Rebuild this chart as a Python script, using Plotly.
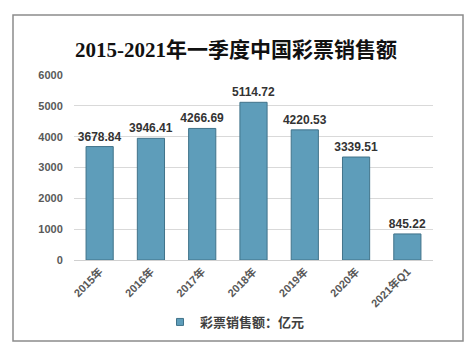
import plotly.graph_objects as go

categories = ["2015年", "2016年", "2017年", "2018年", "2019年", "2020年", "2021年Q1"]
values = [3678.84, 3946.41, 4266.69, 5114.72, 4220.53, 3339.51, 845.22]
y_ticks = [0, 1000, 2000, 3000, 4000, 5000, 6000]
title_text = "2015-2021年一季度中国彩票销售额"
series_name = "彩票销售额：亿元"

W, H = 472, 351
L, R, T, B = 74, 39, 75, 91
pw, ph = W - L - R, H - T - B

def px_x(x):
    return (x - L) / pw

def px_y(y):
    return (H - B - y) / ph

fig = go.Figure()
fig.add_trace(go.Bar(
    x=categories, y=values, name=series_name, showlegend=False,
    marker=dict(color="#5e9dba", line=dict(color="#41738a", width=1)),
    width=0.53,
    text=[f"{v:.2f}" for v in values], textposition="outside",
    constraintext="none",
    textfont=dict(family="Liberation Sans, Arial", size=12, color="#333333", weight="bold"),
    cliponaxis=False,
))
fig.add_trace(go.Scatter(
    x=[None], y=[None], mode="markers", name=series_name,
    marker=dict(symbol="square", size=7, color="#5e9dba", line=dict(color="#41738a", width=1)),
))

fig.update_layout(
    width=W, height=H,
    margin=dict(l=L, r=R, t=T, b=B),
    paper_bgcolor="white", plot_bgcolor="white",
    showlegend=True,
    legend=dict(orientation="h", x=px_x(160), xanchor="left", y=px_y(322), yanchor="middle",
                font=dict(family="Noto Sans CJK SC", size=13, color="#404040", weight="bold"),
                itemwidth=30, tracegroupgap=0),
    title=dict(text=title_text, x=236 / W, xanchor="center", y=1 - 50 / H, yanchor="middle",
               font=dict(family="Liberation Serif, Noto Sans CJK SC", size=21, color="#111111", weight="bold")),
    xaxis=dict(tickangle=-45, tickfont=dict(family="Liberation Sans, Noto Sans CJK SC", size=11, color="#595959", weight="bold"),
               showline=True, linecolor="#d0d0d0", ticks="", showgrid=False),
    yaxis=dict(range=[0, 6000], tickvals=y_ticks, showgrid=True, gridcolor="#d9d9d9",
               tickfont=dict(family="Liberation Sans", size=11, color="#595959", weight="bold"),
               zeroline=False, showline=False, ticks="outside", ticklen=8, tickcolor="white"),
    shapes=[dict(type="rect", xref="paper", yref="paper",
                 x0=px_x(13), x1=px_x(463), y0=px_y(341), y1=px_y(15),
                 line=dict(color="#8c8c8c", width=1.5), fillcolor="rgba(0,0,0,0)", layer="below")],
)

fig.write_html("out.html")
